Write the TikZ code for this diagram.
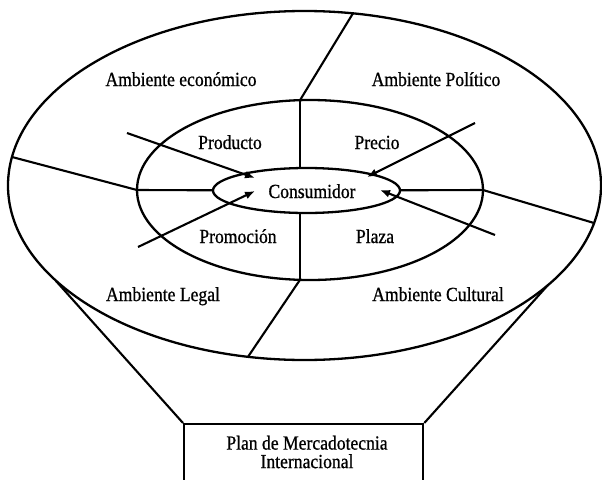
\documentclass[tikz,border=0pt]{standalone}
\usepackage{fontspec}
\setmainfont{Liberation Serif}[FakeStretch=0.88,FakeBold=0.8]
\usetikzlibrary{shapes.geometric,arrows.meta}
\begin{document}
\begin{tikzpicture}[x=1pt,y=-1pt,
  ring/.style={draw, ellipse, inner sep=0pt, line width=2.3pt},
  seg/.style={line width=2.1pt},
  arr/.style={line width=2.1pt, -{Latex[length=10pt,width=8pt]}},
  lbl/.style={font=\fontsize{20}{18}\selectfont, inner sep=0pt, anchor=base},
  boxtext/.style={font=\fontsize{20}{18.5}\selectfont, inner sep=0pt, align=center}]
\useasboundingbox (0,0) rectangle (602,479);
\clip (0,0) rectangle (602,479);
% rings
\node[ring, minimum width=593pt, minimum height=349pt] (outer) at (304.5,185.5) {};
\node[ring, minimum width=346pt, minimum height=180pt] (middle) at (310,190) {};
\node[ring, minimum width=187pt, minimum height=45pt] (inner) at (306.5,190.5) {};
% points on the rings
\coordinate (oT) at (353,13.3);
\coordinate (oL) at (12,157);
\coordinate (oR) at (594,223);
\coordinate (oB) at (248,356.8);
\coordinate (oFL) at (56,281);
\coordinate (oFR) at (548,285);
\coordinate (mT) at (300,100.2);
\coordinate (mL) at (137,190);
\coordinate (mR) at (483,190);
\coordinate (mB) at (300,279.8);
\coordinate (iT) at (300,168.1);
\coordinate (iB) at (300,212.9);
\coordinate (iL) at (213,190.3);
\coordinate (iR) at (400,190.3);
% dividing lines
\draw[seg] (oT) -- (mT);
\draw[seg] (oL) -- (mL);
\draw[seg] (mR) -- (oR);
\draw[seg] (mB) -- (oB);
\draw[seg] (mT) -- (iT);
\draw[seg] (iB) -- (mB);
\draw[seg] (mL) -- (iL);
\draw[seg] (iR) -- (mR);
% arrows towards the consumer
\coordinate (sProd) at (127,133);
\coordinate (tProd) at (255,178);
\coordinate (sPrec) at (475,123);
\coordinate (tPrec) at (367,177);
\coordinate (sProm) at (138,247);
\coordinate (tProm) at (255,191);
\coordinate (sPlaz) at (495,235);
\coordinate (tPlaz) at (380,190);
\draw[arr] (sProd) -- (tProd);
\draw[arr] (sPrec) -- (tPrec);
\draw[arr] (sProm) -- (tProm);
\draw[arr] (sPlaz) -- (tPlaz);
% plan box and funnel
\node[draw, line width=2.3pt, minimum width=239pt, minimum height=80pt, inner sep=0pt, anchor=north west] (plan) at (183,423) {};
\draw[seg] (oFL) -- (plan.north west);
\draw[seg] (oFR) -- (plan.north east);
% labels
\node[lbl] (econ) at (181,86) {Ambiente económico};
\node[lbl] (poli) at (436,86) {Ambiente Político};
\node[lbl] (prod) at (230,149) {Producto};
\node[lbl] (prec) at (377,149) {Precio};
\node[lbl] (cons) at (312,198) {Consumidor};
\node[lbl] (prom) at (238,243) {Promoción};
\node[lbl] (plaz) at (375,243) {Plaza};
\node[lbl] (legal) at (163,301) {Ambiente Legal};
\node[lbl] (cult) at (438,301) {Ambiente Cultural};
\node[boxtext] (plantxt) at (307,452) {Plan de Mercadotecnia\\Internacional};
\end{tikzpicture}
\end{document}
